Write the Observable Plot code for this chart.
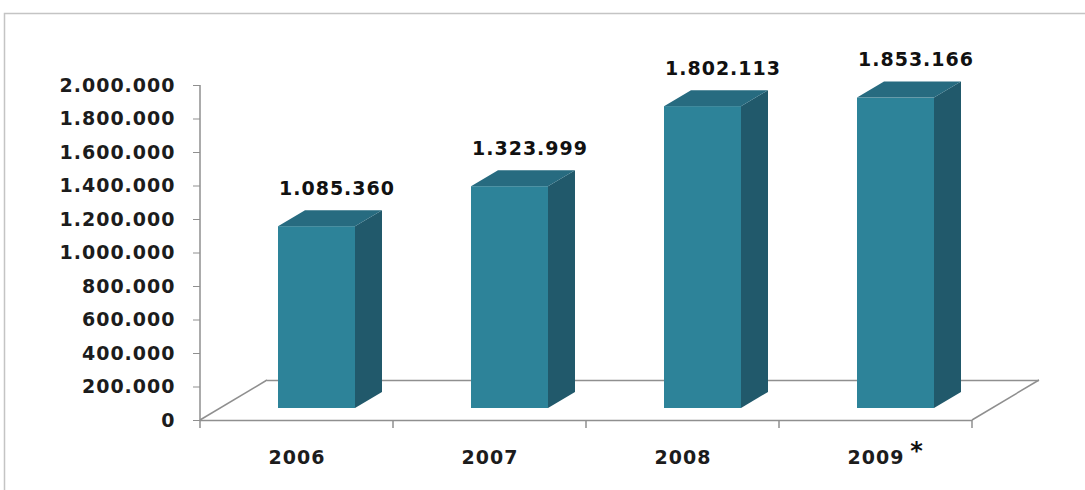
<!DOCTYPE html>
<html>
<head>
<meta charset="utf-8">
<script src="https://cdn.jsdelivr.net/npm/d3@7"></script>
<script src="https://cdn.jsdelivr.net/npm/@observablehq/plot@0.6"></script>
<style>
  html, body { margin: 0; padding: 0; background: #ffffff; }
  #chart { position: relative; width: 1085px; height: 490px; }
</style>
</head>
<body>
<div id="chart"></div>
<script>
// ---- data ----
const years  = ["2006", "2007", "2008", "2009"];
const values = [1085360, 1323999, 1802113, 1853166];
const notes  = ["", "", "", "*"];
const yTicks = [0, 200000, 400000, 600000, 800000, 1000000, 1200000, 1400000, 1600000, 1800000, 2000000];

const de = d3.formatLocale({decimal: ",", thousands: ".", grouping: [3], currency: ["", " €"]});
const fmt = de.format(",");
const rows = years.map((y, i) => ({year: y, value: values[i], note: notes[i]}));

// ---- layout (3D look) ----
const W = 1085, H = 490;
const floorDX = 67, floorDY = -40;      // floor depth in px
const frontDX = 20, frontDY = -12;      // bar front plane offset
const barDX = 27, barDY = -16;          // bar depth
const inset = 58;
const font = "'DejaVu Sans', Verdana, sans-serif";
const frontCol = "#2d8399", sideCol = "#21596b", topCol = "#276b80";
const gridCol = "#8f8f8f";

const plot = Plot.plot({
  width: W, height: H,
  marginLeft: 200, marginRight: 113, marginTop: 85, marginBottom: 70,
  style: {fontFamily: font, fontSize: "19px", fontWeight: "bold", color: "#1c1c1c", background: "transparent", letterSpacing: "1px"},
  x: {domain: years, padding: 0, label: null},
  y: {domain: [0, 2000000], label: null},
  marks: [
    Plot.ruleY([0], {dx: floorDX, dy: floorDY, stroke: gridCol, strokeWidth: 1.5}),
    Plot.ruleY([0], {stroke: gridCol, strokeWidth: 1.5}),
    Plot.axisY({ticks: yTicks, tickFormat: fmt, tickSize: 7, tickPadding: 18, stroke: gridCol, fill: "#1c1c1c", fontSize: 19, label: null}),
    Plot.axisX({tickSize: 0, tickPadding: 30, fill: "#1c1c1c", fontSize: 19, label: null}),
    Plot.barY(rows, {x: "year", y: "value", fill: frontCol, insetLeft: inset, insetRight: inset, dx: frontDX, dy: frontDY}),
    Plot.text(rows, {x: "year", y: "value", text: d => fmt(d.value), dx: 40, dy: -50, fontSize: 19, fill: "#111"}),
    Plot.text(rows, {x: "year", text: "note", frameAnchor: "bottom", dx: 41, dy: 38, fontSize: 24, fill: "#111"})
  ]
});

document.getElementById("chart").appendChild(plot);

// ---- 3D faces & floor via Plot's own scales ----
const sx = plot.scale("x"), sy = plot.scale("y");
const bw = sx.bandwidth;
const xStart = (c) => sx.apply ? sx.apply(c) : d3.scaleBand().domain(sx.domain).range(sx.range).padding(0)(c);
const yAt = (v) => sy.apply ? sy.apply(v) : d3.scaleLinear().domain(sy.domain).range(sy.range)(v);

const svg = d3.select(plot);
const x0 = sx.range[0], x1 = sx.range[1];
const yb = yAt(0), yTop = yAt(2000000);

// floor/back group inserted first so bars sit on top
const back = svg.insert("g", ":first-child").attr("fill", "none").attr("stroke", gridCol).attr("stroke-width", 1.5);
back.append("line").attr("x1", x0).attr("y1", yb).attr("x2", x0 + floorDX).attr("y2", yb + floorDY);
back.append("line").attr("x1", x1).attr("y1", yb).attr("x2", x1 + floorDX).attr("y2", yb + floorDY);
back.append("line").attr("x1", x0).attr("y1", yb).attr("x2", x0).attr("y2", yTop);
const bounds = years.map(c => xStart(c)).concat([x1]);
bounds.forEach(b => back.append("line").attr("x1", b).attr("y1", yb).attr("x2", b).attr("y2", yb + 8));

// outer frame
const frame = svg.insert("g", ":first-child").attr("fill", "none").attr("stroke", "#c4c4c4").attr("stroke-width", 1.5);
frame.append("path").attr("d", `M4.5,${H}V13.5H${W}`);

// side & top faces
const faces = svg.append("g");
rows.forEach(d => {
  const fx0 = xStart(d.year) + inset + frontDX;
  const fx1 = xStart(d.year) + bw - inset + frontDX;
  const ft = yAt(d.value) + frontDY;
  const fb = yAt(0) + frontDY;
  faces.append("polygon").attr("fill", sideCol)
    .attr("points", [[fx1, ft], [fx1 + barDX, ft + barDY], [fx1 + barDX, fb + barDY], [fx1, fb]].map(p => p.join(",")).join(" "));
  faces.append("polygon").attr("fill", topCol)
    .attr("points", [[fx0, ft], [fx1, ft], [fx1 + barDX, ft + barDY], [fx0 + barDX, ft + barDY]].map(p => p.join(",")).join(" "));
});
// keep text on top
svg.selectAll("g[aria-label='text']").raise();
</script>
</body>
</html>
